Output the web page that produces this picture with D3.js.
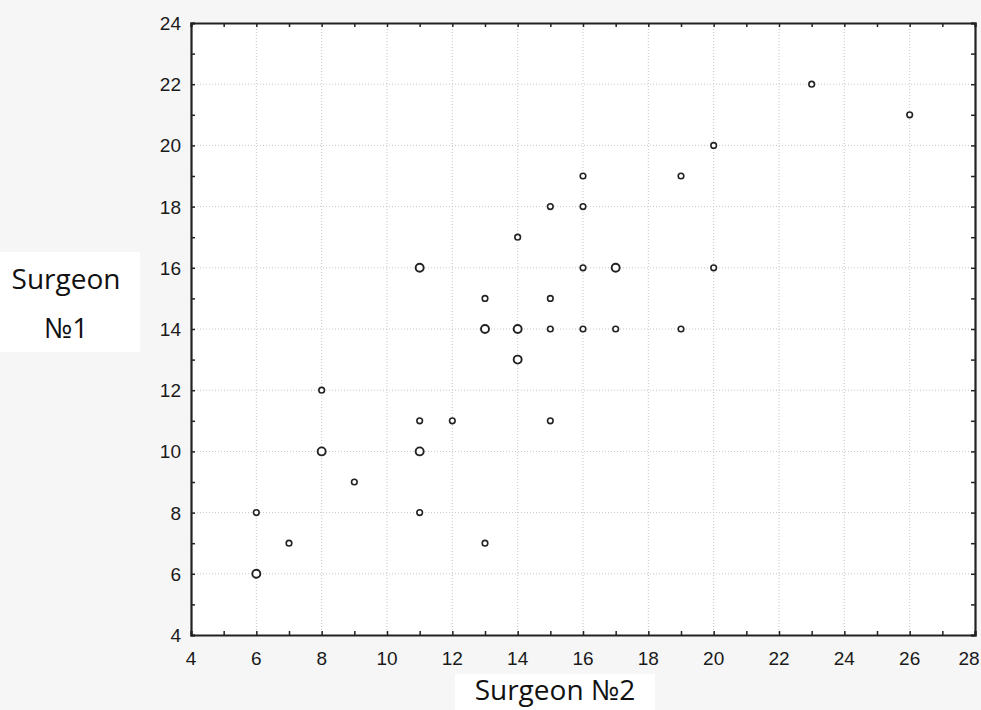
<!DOCTYPE html>
<html>
<head>
<meta charset="utf-8">
<script src="https://cdn.jsdelivr.net/npm/d3@7"></script>
<style>
  body { margin: 0; background: #f6f6f6; }
  svg { display: block; }
</style>
</head>
<body>
<div id="chart"></div>
<script>
const WIDTH = 981, HEIGHT = 710;

// Surgeon №2 scores (x)
const surgeon2 = [6, 6, 7, 8, 8, 9, 11, 11, 11, 11, 12, 13, 13, 13, 14, 14, 14, 15, 15, 15, 15, 16, 16, 16, 16, 17, 17, 19, 19, 20, 20, 23, 26];
// Surgeon №1 scores (y)
const surgeon1 = [6, 8, 7, 10, 12, 9, 8, 10, 11, 16, 11, 7, 14, 15, 13, 14, 17, 11, 14, 15, 18, 14, 16, 18, 19, 14, 16, 14, 19, 16, 20, 22, 21];
// repeated observations are drawn with the bigger marker
const repeated = [1, 0, 0, 1, 0, 0, 0, 1, 0, 1, 0, 0, 1, 0, 1, 1, 0, 0, 0, 0, 0, 0, 0, 0, 0, 0, 1, 0, 0, 0, 0, 0, 0];

const xTicks = [4, 6, 8, 10, 12, 14, 16, 18, 20, 22, 24, 26, 28];
const yTicks = [4, 6, 8, 10, 12, 14, 16, 18, 20, 22, 24];

const margin = { left: 191, right: 6, top: 23, bottom: 75 };

let svg = d3
  .select("#chart")
  .append("svg")
  .attr("width", WIDTH)
  .attr("height", HEIGHT);

const x = d3.scaleLinear().domain([4, 28]).range([margin.left, WIDTH - margin.right]);
const y = d3.scaleLinear().domain([4, 24]).range([HEIGHT - margin.bottom, margin.top]);

//white plot area
svg.append("rect")
  .attr("x", x(4)).attr("y", y(24))
  .attr("width", x(28) - x(4)).attr("height", y(4) - y(24))
  .attr("fill", "#fff");

//white boxes behind the titles
svg.append("rect")
  .attr("x", 0).attr("y", 252)
  .attr("width", 140).attr("height", 100)
  .attr("fill", "#fff");
svg.append("rect")
  .attr("x", 455).attr("y", 674)
  .attr("width", 200).attr("height", 36)
  .attr("fill", "#fff");

//dotted grid
const grid = svg.append("g").attr("stroke", "#c8c8c8").attr("stroke-dasharray", "1,2").attr("stroke-width", 1);
grid.selectAll(".gx").data(xTicks.slice(1, -1)).enter().append("line")
  .attr("x1", (d) => x(d)).attr("x2", (d) => x(d))
  .attr("y1", y(24)).attr("y2", y(4));
grid.selectAll(".gy").data(yTicks.slice(1, -1)).enter().append("line")
  .attr("y1", (d) => y(d)).attr("y2", (d) => y(d))
  .attr("x1", x(4)).attr("x2", x(28));

//axes on all four sides, ticks pointing inward
const tickFont = "Liberation Sans, Arial, sans-serif";
const minorX = d3.range(4, 29);
const minorY = d3.range(4, 25);

const axisBottomG = svg.append("g").attr("transform", `translate(0,${y(4)})`)
  .call(d3.axisBottom(x).tickValues(minorX).tickSize(-4).tickFormat(""));
const axisTopG = svg.append("g").attr("transform", `translate(0,${y(24)})`)
  .call(d3.axisTop(x).tickValues(minorX).tickSize(-4).tickFormat(""));
const axisLeftG = svg.append("g").attr("transform", `translate(${x(4)},0)`)
  .call(d3.axisLeft(y).tickValues(minorY).tickSize(-4).tickFormat(""));
const axisRightG = svg.append("g").attr("transform", `translate(${x(28)},0)`)
  .call(d3.axisRight(y).tickValues(minorY).tickSize(-4).tickFormat(""));

[axisBottomG, axisTopG, axisLeftG, axisRightG].forEach((g) => {
  g.select(".domain").attr("stroke", "#222").attr("stroke-width", 2.2);
  g.selectAll(".tick line").attr("stroke", "#222").attr("stroke-width", 1.5);
});

//tick labels (last one pulled in so it stays on the page)
svg.append("g").selectAll("text").data(xTicks).enter().append("text")
  .attr("x", (d) => Math.min(x(d), WIDTH - 12)).attr("y", y(4) + 30)
  .attr("text-anchor", "middle")
  .style("font-family", tickFont).style("font-size", "19px").attr("fill", "#1a1a1a")
  .text((d) => d);
svg.append("g").selectAll("text").data(yTicks).enter().append("text")
  .attr("x", x(4) - 10).attr("y", (d) => y(d) + 7)
  .attr("text-anchor", "end")
  .style("font-family", tickFont).style("font-size", "19px").attr("fill", "#1a1a1a")
  .text((d) => d);

//axis titles
const titleFont = "Open Sans, Noto Sans, sans-serif";
svg.append("text").attr("x", 66).attr("y", 289).attr("text-anchor", "middle")
  .style("font-family", titleFont).style("font-size", "28px").attr("fill", "#111").text("Surgeon");
svg.append("text").attr("x", 66).attr("y", 338).attr("text-anchor", "middle")
  .style("font-family", titleFont).style("font-size", "28px").attr("fill", "#111").text("№1");
svg.append("text").attr("x", 555).attr("y", 700).attr("text-anchor", "middle")
  .style("font-family", titleFont).style("font-size", "28px").attr("fill", "#111").text("Surgeon №2");

//points
const points = surgeon2.map((v, i) => ({ x: v, y: surgeon1[i], big: repeated[i] }));
svg.append("g").selectAll("circle").data(points).enter().append("circle")
  .attr("cx", (d) => x(d.x))
  .attr("cy", (d) => y(d.y))
  .attr("r", (d) => (d.big ? 4 : 2.8))
  .attr("fill", "#fff")
  .attr("stroke", "#222")
  .attr("stroke-width", (d) => (d.big ? 1.9 : 1.6));
</script>
</body>
</html>
